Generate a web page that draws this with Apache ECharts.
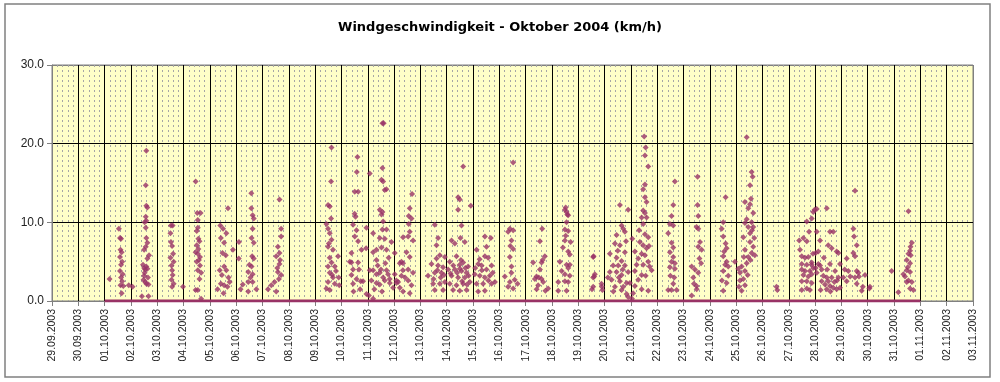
<!DOCTYPE html>
<html><head><meta charset="utf-8">
<script src="https://cdn.jsdelivr.net/npm/echarts@6/dist/echarts.min.js"></script>
<style>html,body{margin:0;padding:0;background:#fff}#c{width:1000px;height:382px}</style>
</head><body><div id="c"></div>
<script>
const chartTitle = 'Windgeschwindigkeit - Oktober 2004 (km/h)';
const dayLabels = ['29.09.2003','30.09.2003','01.10.2003','02.10.2003','03.10.2003','04.10.2003','05.10.2003','06.10.2003','07.10.2003','08.10.2003','09.10.2003','10.10.2003','11.10.2003','12.10.2003','13.10.2003','14.10.2003','15.10.2003','16.10.2003','17.10.2003','18.10.2003','19.10.2003','20.10.2003','21.10.2003','22.10.2003','23.10.2003','24.10.2003','25.10.2003','26.10.2003','27.10.2003','28.10.2003','29.10.2003','30.10.2003','31.10.2003','01.11.2003','02.11.2003','03.11.2003'];
const yTicks = [0, 10, 20, 30];
const calmFrom = '01.10.2003';
const calmTo = '01.11.2003';
const firstDataDay = '01.10.2003';

// [hour of day, km/h] per day of October 2003 (non-calm readings)
const oct01 = [[4.5,2.8],[13,9.2],[14,8.0],[15,7.9],[14.5,6.5],[15.5,6.2],[14,5.6],[16,5.0],[15,4.6],[14,3.8],[16.5,3.4],[15,3.0],[16,2.5],[14.5,2.0],[17,1.9],[15.5,1.0],[22,2.0]];
const oct02 = [[1.5,1.8],[14,19.1],[13.5,14.7],[14,12.1],[15,11.9],[13.5,10.7],[12.5,10.0],[14,10.2],[13.5,9.3],[14,8.0],[15,7.4],[12,6.5],[13.5,6.9],[16.5,5.8],[15,5.4],[11,4.6],[12,4.2],[13,4.0],[14,4.4],[15,4.1],[12.5,3.6],[11.5,2.7],[14,2.2],[16,2.1],[10,0.6],[16,0.6],[12,3.2],[13,2.4],[15.5,3.0]];
const oct03 = [[12.5,9.6],[14,9.6],[12,8.6],[12.5,7.5],[13.5,7.0],[12,5.5],[15,5.0],[13.5,3.9],[14,3.3],[13,2.7],[13.5,1.8],[15,2.2],[23.5,1.8],[13,4.5],[14.5,6.0]];
const oct04 = [[11,15.2],[12.5,11.2],[15.5,11.2],[13,10.3],[13,9.3],[12,8.9],[13.5,7.9],[14.5,7.6],[12,7.1],[13.5,6.6],[11,6.2],[15,5.6],[13,3.9],[15,4.5],[11,1.4],[13,1.4],[16,0.3],[12,5.0],[14,5.2],[13,6.0],[16,3.6],[14.5,2.8]];
const oct05 = [[9.5,9.6],[10,8.0],[12,9.2],[15,8.6],[16.5,11.8],[13,7.4],[11.5,6.1],[14.5,5.8],[9,3.9],[11,3.3],[13,4.4],[15,3.9],[10,2.2],[13,2.0],[16,1.8],[7,1.5],[12.5,1.0],[21,6.5],[17,3.0],[18,2.4]];
const oct06 = [[2.3,5.4],[2.5,7.5],[13.8,13.7],[13.8,11.8],[15,10.9],[16,10.5],[15,9.2],[14,8.0],[16,7.4],[14.5,5.7],[16,5.4],[12,4.6],[14,4.4],[11,3.7],[15,3.4],[11,2.4],[15,2.4],[11,1.2],[18.4,1.5],[6,2.1],[4,1.5],[13,3.0]];
const oct07 = [[15.5,12.9],[17,9.2],[17,8.2],[14,6.9],[15.5,6.1],[12.5,5.7],[15.5,4.7],[14,3.7],[17,3.3],[11,2.4],[5,1.5],[12.5,1.2],[8,2.0],[16,5.2],[13.5,4.2],[15,2.8]];
const oct08 = [];
const oct09 = [[14.9,19.5],[14.5,15.2],[11.8,12.2],[13.3,12.0],[14.5,10.5],[10.3,9.8],[11.8,9.2],[13.3,8.6],[14.9,7.8],[11.8,6.9],[16.3,6.5],[20.9,5.7],[13.3,5.5],[14.9,4.9],[11.8,4.4],[17.9,4.4],[13.3,3.6],[16.3,3.0],[21.5,3.0],[11.8,2.4],[17.9,2.2],[13.3,1.4],[10.3,1.6],[19,3.8],[15.5,3.3],[12.5,7.3],[22,2.0]];
const oct10 = [[14.6,18.3],[14,16.4],[12.1,13.9],[15.2,13.9],[12,11.1],[12.8,10.7],[10.6,9.7],[13.7,9.0],[12.1,8.2],[15.2,7.6],[18.2,6.5],[9.1,6.1],[15.2,4.9],[9.1,4.9],[10.6,4.0],[16,4.0],[9.1,3.3],[13.7,2.8],[17.6,2.5],[10.6,2.2],[19.7,2.5],[17,1.5],[22.8,0.9],[22.8,9.3],[22.5,6.7],[7.6,5.0],[11,1.2]];
const oct11 = [[1.8,16.2],[13.4,22.6],[14.5,22.6],[13.4,16.9],[12.5,15.4],[14,15.2],[15.5,14.1],[17,14.2],[11,11.6],[13.4,11.3],[12.5,11.0],[14,10.1],[13.4,9.1],[17.1,9.1],[10.9,8.0],[15.5,7.9],[4.9,8.6],[7.9,6.5],[4.9,6.2],[12.5,6.8],[17.1,6.5],[21.6,7.5],[7.9,5.2],[1.8,3.9],[4.9,3.9],[7.9,3.4],[10.9,3.6],[17.1,3.9],[18.5,3.4],[3.3,2.6],[7.9,2.3],[10.9,2.1],[15.5,2.6],[20.1,2.3],[23.1,1.7],[1,0.7],[4.9,0.3],[9,4.5],[12,4.0],[14,3.0],[16,4.8],[19,5.5],[20,2.8],[13,1.2],[6,1.5]];
const oct12 = [[16.4,13.6],[14.3,11.8],[13.4,10.8],[15.9,10.5],[13.4,9.8],[14.3,8.8],[12.8,8.2],[17.3,7.7],[11.3,6.2],[14.3,5.6],[8.2,4.8],[5.2,4.8],[12.8,4.0],[17.3,3.6],[6.7,3.2],[3.7,2.4],[12.8,2.6],[15.9,2.0],[8.2,1.2],[14.3,1.0],[0.6,6.1],[0.6,3.4],[2.1,2.6],[8.2,8.1],[6.7,5.0],[8,3.9],[10,3.0],[2.1,2.3],[5.2,1.7]];
const oct13 = [[13.1,9.7],[16.1,8.0],[14.7,7.1],[17.7,5.8],[14.7,5.4],[22.3,5.6],[10.1,4.7],[16.1,4.5],[20.7,4.3],[13.1,3.6],[19.2,3.6],[11.6,2.2],[17.7,2.2],[22.3,2.4],[13.1,1.4],[20.7,1.4],[7,3.2],[18.5,3.0],[15.5,3.9],[21.5,3.3],[12,2.8]];
const oct14 = [[15,17.1],[10.4,13.2],[11.9,12.9],[10.4,11.6],[22,12.1],[13.5,9.6],[12.5,8.0],[4.4,7.7],[7.4,7.3],[16.5,7.5],[8.9,5.7],[2.8,5.0],[15,4.9],[11.9,4.6],[19.5,4.4],[1.3,4.0],[7.4,4.0],[13.5,3.8],[18.1,3.6],[4.4,3.2],[10.4,3.0],[16.5,3.0],[21.1,2.4],[2.8,2.2],[8.9,2.0],[15,2.2],[5.8,1.4],[11.9,1.3],[18.1,1.4],[6,4.5],[9.5,3.6],[13,5.2],[17,4.2],[20,3.2],[14,2.5],[3.5,3.5],[12,4.1],[18.5,2.1]];
const oct15 = [[10.8,8.2],[16.2,8.0],[12.3,6.9],[3.2,6.5],[10.8,5.7],[13.8,5.5],[4.7,4.7],[7.8,4.5],[12.3,4.0],[16.9,4.5],[1.6,3.4],[6.2,3.2],[10.8,3.0],[15.3,3.2],[3.2,2.2],[9.2,2.2],[16.9,2.2],[4.7,1.2],[10.8,1.3],[8,3.9],[14,2.6],[18,3.6],[20,2.4],[2,4.2],[6,5.3]];
const oct16 = [[12.6,17.6],[9.6,9.2],[12.6,9.0],[8,8.8],[11.1,7.7],[12.6,6.6],[9.6,5.6],[11.1,4.4],[5,3.1],[9.6,2.4],[8,1.8],[12.6,1.6],[16.6,2.2],[10,7.0],[14,2.7],[11,3.6]];
const oct17 = [[15.1,9.2],[13,7.6],[17.5,5.7],[14.5,4.9],[9.9,3.1],[12,3.0],[8.4,2.8],[14.5,2.8],[16,2.4],[11.4,2.0],[6.8,4.9],[20.5,1.6],[13,4.0],[15.5,5.2],[18,1.3],[10,1.5]];
const oct18 = [[11.8,11.6],[13.3,11.3],[14.8,10.9],[13.3,10.0],[11.8,9.1],[14.8,8.9],[11.8,7.7],[14.8,6.3],[16.3,5.9],[13.3,4.6],[16.3,4.6],[14.8,4.2],[7.2,5.0],[8.8,3.8],[11.8,3.4],[16.3,3.2],[5.7,2.4],[11.8,2.5],[14.8,2.4],[5.7,1.3],[13.3,1.3],[12.5,11.9],[14,11.0],[10,6.8],[17,7.5],[12.5,8.3]];
const oct19 = [[13.6,5.6],[15.1,3.4],[13.6,3.0],[21.2,2.2],[13.6,1.8],[14,5.7],[14.5,3.1],[12.5,1.5],[21.5,1.8],[22,1.4]];
const oct20 = [[14,12.2],[21.5,11.6],[15.5,9.6],[17,9.2],[10.9,8.4],[18.5,8.8],[9.4,7.3],[14,7.1],[4.8,6.0],[18.5,6.2],[10.9,5.5],[15.5,5.1],[7.8,4.5],[12.4,4.5],[18.5,4.5],[4.8,3.7],[10.9,3.7],[15.5,3.3],[21.5,3.7],[6.4,2.7],[14,2.5],[20.1,2.3],[23.1,2.3],[9.4,1.8],[15.5,1.4],[20.1,0.9],[21.5,0.5],[3,3.0],[12,6.4],[17,1.8],[8,1.2],[13,3.0],[19.5,7.6],[16.5,4.0]];
const oct21 = [[12.1,20.9],[13.4,19.5],[12.8,18.5],[15.8,17.1],[12.8,14.8],[11.2,14.2],[12.8,13.2],[14.3,12.6],[11.2,11.5],[12.8,11.2],[9.8,10.6],[14.3,10.6],[11.2,9.8],[12.8,8.5],[15.8,8.1],[8.2,7.5],[11.2,7.1],[14.3,6.7],[9.8,6.0],[12.8,5.8],[6.7,5.4],[15.8,5.0],[5.2,4.6],[11.2,4.6],[3.6,3.8],[9.8,3.3],[6.7,2.7],[18.9,3.9],[3.6,1.9],[9.8,1.5],[15.8,1.3],[3.6,6.3],[1.2,7.9],[2,1.0],[1,0.3],[17,4.4],[13.5,3.2],[7.5,9.0],[16.5,7.0]];
const oct22 = [[16.1,15.2],[14.6,12.2],[13.1,10.8],[11.6,9.8],[14.6,9.6],[10,8.6],[13.1,7.4],[14.6,6.8],[11.6,6.2],[14.6,5.6],[13.1,5.0],[16.1,4.8],[11.6,4.3],[16.1,4.1],[10,1.4],[17.7,1.4],[14.6,2.2],[12,3.2],[15.5,3.0],[13,1.4]];
const oct23 = [[12.8,15.8],[12.8,12.2],[13.4,10.8],[11.9,9.4],[13.4,9.2],[15,7.5],[13.4,6.9],[16.5,6.5],[7.4,4.4],[10.4,4.0],[13.4,3.6],[8.9,3.0],[11.9,1.9],[7.4,0.7],[14.5,5.4],[9.5,2.2],[16,4.8],[12,1.5]];
const oct24 = [[14.4,13.2],[12.2,10.0],[10.8,9.2],[12.2,8.2],[14.4,7.3],[15.3,6.7],[12.2,5.7],[15.3,5.0],[16.8,4.4],[12.2,3.8],[16.8,3.2],[15.3,2.3],[12.2,1.3],[22.9,5.0],[13,6.3],[14,4.6],[11,2.6]];
const oct25 = [[9.6,20.8],[14.1,16.4],[15,15.8],[12.6,14.7],[8,12.6],[12.6,12.3],[15.6,11.2],[9.6,10.4],[8,9.9],[11,9.4],[15.6,9.4],[6.5,8.1],[12.6,7.5],[15.6,6.9],[8,6.5],[14.1,6.1],[9.6,4.8],[5,4.4],[8,3.8],[3.5,3.6],[6.5,2.8],[3.5,2.6],[8,2.0],[5,1.3],[12.6,8.6],[14.1,10.0],[11,5.6],[13.5,13.0],[13,5.2],[10.5,3.3],[1.9,4.1],[2.5,1.8],[17,5.8],[16.5,8.0],[11,11.8],[14.5,9.0],[7,5.6]];
const oct26 = [[12.8,1.8],[13.5,1.4]];
const oct27 = [[10.2,6.5],[13.3,8.0],[16.4,7.6],[16.4,10.1],[20.9,10.5],[22.3,11.3],[23.5,11.6],[11.8,5.7],[14.8,5.5],[17.8,5.6],[20.9,4.9],[11.8,4.7],[16.4,4.6],[20.9,4.6],[11.8,4.0],[14.8,3.8],[19.3,3.8],[22.3,4.2],[13.3,3.3],[17.8,3.1],[20.9,3.4],[11.8,2.5],[16.4,2.5],[20.9,2.3],[16.4,1.6],[11.8,1.4],[19.3,1.4],[9.5,7.7],[22,6.0],[18.5,8.8]];
const oct28 = [[1.5,11.7],[10.6,11.8],[1.5,8.8],[4.5,7.7],[2.9,6.3],[0.5,6.1],[2.9,4.7],[4.5,4.5],[0.5,4.2],[6,4.0],[1.5,3.6],[7.5,3.2],[10.6,3.0],[6,2.5],[12,2.5],[9,2.1],[13.6,1.9],[16.6,1.7],[10.6,1.5],[19.7,1.5],[12,7.1],[15.1,6.7],[13.6,8.8],[16.6,8.8],[19.7,6.3],[21.2,6.1],[22.7,4.7],[18.2,3.8],[21.2,3.0],[15.1,3.0],[22.7,1.7],[13.6,4.7],[8,5.5],[14,1.2],[17.5,2.4],[11,4.0],[20,2.6],[5,1.4]];
const oct29 = [[12.4,14.0],[10.9,9.2],[14,7.1],[10.9,6.1],[12.4,5.7],[14,3.8],[15.4,3.6],[12.4,3.0],[21.5,3.3],[4.8,5.4],[6.3,3.8],[1.7,3.0],[4.8,2.5],[14,2.2],[18.5,1.3],[3,4.0],[8,3.1],[16,3.1],[19.5,1.8],[11.5,8.2]];
const oct30 = [[2,1.8],[1.5,1.6],[21.8,3.8]];
const oct31 = [[13.1,11.4],[16.2,7.4],[14.6,6.4],[13.1,6.0],[15.2,5.8],[11.6,5.2],[14.6,4.8],[11.6,3.9],[14.6,3.7],[10,3.1],[13.1,2.6],[11.6,2.4],[16.2,2.4],[14.6,1.6],[17.6,1.4],[3.9,1.1],[8.5,3.4],[15,6.9],[12.5,4.3]];
const octoberDays = [oct01,oct02,oct03,oct04,oct05,oct06,oct07,oct08,oct09,oct10,oct11,oct12,oct13,oct14,oct15,oct16,oct17,oct18,oct19,oct20,oct21,oct22,oct23,oct24,oct25,oct26,oct27,oct28,oct29,oct30,oct31];

const firstIdx = dayLabels.indexOf(firstDataDay);
const points = [];
octoberDays.forEach((arr, i) => arr.forEach(([h, v]) => points.push([firstIdx + i + h / 24, v])));
const calmLine = [[dayLabels.indexOf(calmFrom), 0], [dayLabels.indexOf(calmTo), 0]];

const FONT = '"Liberation Sans", Arial, sans-serif';
const chart = echarts.init(document.getElementById('c'), null, {renderer: 'canvas'});
const lastIdx = dayLabels.length - 1;
chart.setOption({
  animation: false,
  backgroundColor: '#ffffff',
  title: {
    text: chartTitle, left: 'center', top: 16,
    textStyle: {fontFamily: '"DejaVu Sans", sans-serif', fontSize: 13, fontWeight: 'bold', color: '#000'}
  },
  graphic: [{
    type: 'rect', shape: {x: 5, y: 4, width: 985, height: 373},
    style: {fill: 'none', stroke: '#808080', lineWidth: 1.5}, z: 100, silent: true
  }],
  grid: {left: 52, right: 27, top: 65, bottom: 81, show: true, backgroundColor: '#FFFFC8', borderColor: '#808080', borderWidth: 1},
  xAxis: {
    type: 'value', min: 0, max: lastIdx, interval: 1,
    axisLine: {show: true, onZero: false, lineStyle: {color: '#808080', width: 1}},
    axisTick: {show: true, inside: false, length: 5, lineStyle: {color: '#808080'}},
    axisLabel: {
      rotate: 90, margin: 8, fontFamily: FONT, fontSize: 10.5, color: '#222',
      formatter: v => dayLabels[Math.round(v)] || ''
    },
    splitLine: {show: true, lineStyle: {color: dayLabels.map((_, i) => (i === 0 || i === lastIdx) ? '#808080' : '#000000'), width: 1}},
    minorTick: {show: false, splitNumber: 5},
    minorSplitLine: {show: true, lineStyle: {color: '#a6a6a6', width: 1, type: [2, 3]}}
  },
  yAxis: {
    type: 'value', min: yTicks[0], max: yTicks[yTicks.length - 1], interval: yTicks[1] - yTicks[0],
    axisLine: {show: true, lineStyle: {color: '#808080', width: 1}},
    axisTick: {show: true, inside: false, length: 5, lineStyle: {color: '#808080'}},
    axisLabel: {margin: 8, fontFamily: FONT, fontSize: 12, color: '#222', formatter: v => v.toFixed(1)},
    splitLine: {show: true, lineStyle: {color: yTicks.map((_, i) => (i === 0 || i === yTicks.length - 1) ? '#808080' : '#000000'), width: 1}}
  },
  series: [
    {
      type: 'line', data: calmLine, showSymbol: false, silent: true, z: 3,
      lineStyle: {color: '#993366', width: 3}
    },
    {
      type: 'scatter', data: points, symbol: 'diamond', symbolSize: 6, z: 4,
      itemStyle: {color: '#993366'}
    }
  ]
});
</script>
</body></html>
